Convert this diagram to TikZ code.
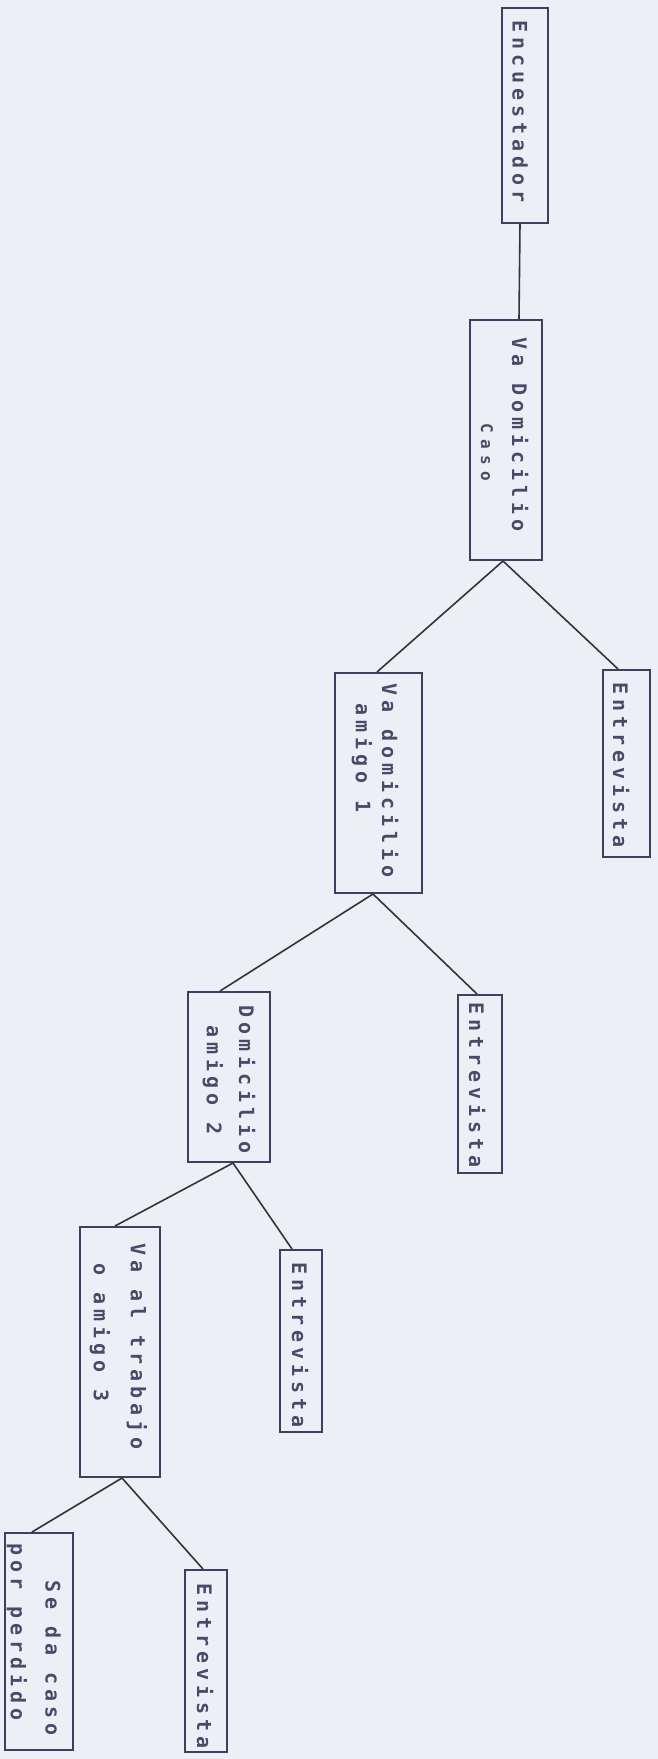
\documentclass[tikz,border=0pt]{standalone}
\usepackage{fontspec}
\newfontfamily\tw[LetterSpace=25]{DejaVu Sans Mono Bold}
\newfontfamily\tws[LetterSpace=40]{DejaVu Sans Mono Bold}
\definecolor{paper}{HTML}{EDEFF6}
\definecolor{ink}{HTML}{4A4A68}
\definecolor{boxline}{HTML}{3E4060}
\definecolor{wire}{HTML}{333340}
\begin{document}
\begin{tikzpicture}[x=1pt,y=-1pt,
  box/.style={draw=boxline, line width=2pt, inner sep=0pt},
  conn/.style={draw=wire, line width=1.6pt},
  lbl/.style={rotate=-90, anchor=west, inner sep=0pt, text=ink, font=\tw\fontsize{20}{24}\selectfont},
  lbls/.style={rotate=-90, anchor=west, inner sep=0pt, text=ink, font=\tws\fontsize{16}{19}\selectfont}]
\fill[paper] (0,0) rectangle (658,1759);
\useasboundingbox (0,0) rectangle (658,1759);
% boxes
\node[box, minimum width=46pt, minimum height=215pt] (enc) at (525,115.5) {};
\node[box, minimum width=72pt, minimum height=240pt] (caso) at (506,440) {};
\node[box, minimum width=47pt, minimum height=187pt] (e1) at (626.5,763.5) {};
\node[box, minimum width=87pt, minimum height=220pt] (am1) at (378.5,783) {};
\node[box, minimum width=44pt, minimum height=178pt] (e2) at (480,1084) {};
\node[box, minimum width=82pt, minimum height=170pt] (am2) at (229,1077) {};
\node[box, minimum width=42pt, minimum height=182pt] (e3) at (301,1341) {};
\node[box, minimum width=80pt, minimum height=250pt] (trab) at (120,1352) {};
\node[box, minimum width=68pt, minimum height=217pt] (perd) at (39,1641.5) {};
\node[box, minimum width=42pt, minimum height=182pt] (e4) at (206,1661) {};
% texts
\node[lbl] (t1) at (520,20) {Encuestador};
\node[lbl] (t2a) at (520,337) {Va Domicilio};
\node[lbls] (t2b) at (487,423) {Caso};
\node[lbl] (t3) at (621,682) {Entrevista};
\node[lbl] (t4a) at (390,683) {Va domicilio};
\node[lbl] (t4b) at (362,703) {amigo 1};
\node[lbl] (t5) at (477,1002) {Entrevista};
\node[lbl] (t6a) at (247,1005) {Domicilio};
\node[lbl] (t6b) at (213,1025) {amigo 2};
\node[lbl] (t7) at (300,1262) {Entrevista};
\node[lbl] (t8a) at (137,1243) {Va al trabajo};
\node[lbl] (t8b) at (100,1263) {o amigo 3};
\node[lbl] (t9a) at (53,1580) {Se da caso};
\node[lbl] (t9b) at (17,1543) {por perdido};
\node[lbl] (t10) at (205,1583) {Entrevista};
% connectors
\draw[conn] ([xshift=-5pt]enc.south) -- ([xshift=13pt]caso.north);
\draw[conn] ([xshift=-3pt]caso.south) -- ([xshift=-8.5pt]e1.north);
\draw[conn] ([xshift=-3pt]caso.south) -- ([xshift=-1.5pt]am1.north);
\draw[conn] ([xshift=-5.5pt]am1.south) -- ([xshift=-3pt]e2.north);
\draw[conn] ([xshift=-5.5pt]am1.south) -- ([xshift=-9pt]am2.north);
\draw[conn] ([xshift=4pt]am2.south) -- ([xshift=-9pt]e3.north);
\draw[conn] ([xshift=4pt]am2.south) -- ([xshift=-5pt]trab.north);
\draw[conn] ([xshift=2pt]trab.south) -- ([xshift=-7pt]perd.north);
\draw[conn] ([xshift=2pt]trab.south) -- ([xshift=-3pt]e4.north);
\end{tikzpicture}
\end{document}
